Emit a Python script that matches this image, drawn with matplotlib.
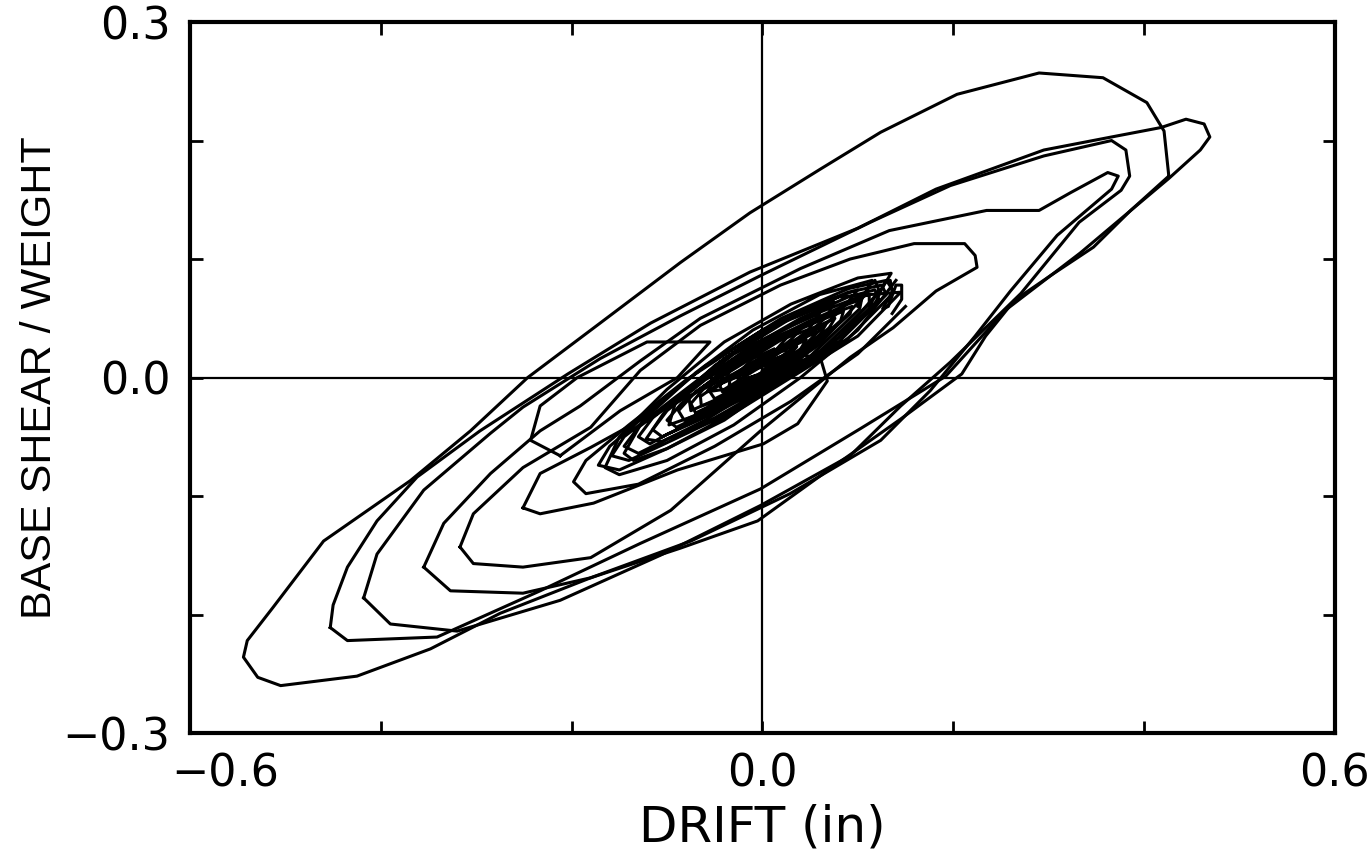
import matplotlib
matplotlib.use("Agg")
import matplotlib.pyplot as plt
import matplotlib.transforms as mtransforms
import numpy as np

# hysteresis loops: drift (in) vs base shear / weight
loop1_x = [0.426, 0.386, 0.347, 0.302, 0.264, 0.234, 0.209, 0.145, 0.071, -0.005, -0.086, -0.180,
           -0.275, -0.348, -0.425, -0.505, -0.529, -0.544, -0.540, -0.513, -0.460, -0.369, -0.306,
           -0.246, -0.170, -0.086, -0.013, 0.061, 0.124, 0.204, 0.290, 0.357, 0.403, 0.421, 0.426]
loop1_y = [0.170, 0.141, 0.110, 0.086, 0.065, 0.035, 0.003, -0.035, -0.077, -0.121, -0.144, -0.169,
           -0.199, -0.229, -0.252, -0.260, -0.253, -0.236, -0.222, -0.194, -0.138, -0.087, -0.045,
           0.000, 0.046, 0.097, 0.139, 0.176, 0.207, 0.239, 0.257, 0.253, 0.232, 0.208, 0.170]

loop2_x = [-0.453, -0.435, -0.341, -0.233, -0.128, -0.002, 0.103, 0.192, 0.255, 0.333, 0.426, 0.459,
           0.469, 0.463, 0.444, 0.418, 0.366, 0.295, 0.182, 0.100, -0.013, -0.117, -0.204, -0.296,
           -0.362, -0.404, -0.435, -0.450, -0.453]
loop2_y = [-0.211, -0.222, -0.219, -0.180, -0.140, -0.094, -0.043, 0.001, 0.057, 0.105, 0.168, 0.192,
           0.203, 0.214, 0.218, 0.211, 0.203, 0.192, 0.159, 0.126, 0.089, 0.046, 0.003, -0.045,
           -0.084, -0.121, -0.160, -0.192, -0.211]

loop3_x = [-0.418, -0.390, -0.320, -0.212, -0.107, -0.002, 0.092, 0.145, 0.197, 0.271, 0.332, 0.376,
           0.385, 0.381, 0.366, 0.295, 0.197, 0.113, -0.002, -0.086, -0.170, -0.251, -0.285, -0.355,
           -0.404, -0.418]
loop3_y = [-0.186, -0.208, -0.214, -0.188, -0.150, -0.108, -0.066, -0.024, 0.013, 0.071, 0.131, 0.158,
           0.170, 0.192, 0.200, 0.187, 0.162, 0.131, 0.086, 0.052, 0.016, -0.025, -0.047, -0.095,
           -0.149, -0.186]

loop4_x = [-0.355, -0.327, -0.251, -0.180, -0.075, 0.029, 0.124, 0.176, 0.223, 0.260, 0.309, 0.366,
           0.373, 0.362, 0.323, 0.290, 0.235, 0.133, 0.040, -0.065, -0.128, -0.191, -0.233, -0.285,
           -0.334, -0.355]
loop4_y = [-0.160, -0.180, -0.182, -0.169, -0.138, -0.098, -0.053, -0.011, 0.035, 0.073, 0.120, 0.159,
           0.170, 0.173, 0.156, 0.141, 0.141, 0.124, 0.092, 0.050, 0.014, -0.024, -0.045, -0.081,
           -0.123, -0.160]

loop5_x = [-0.317, -0.303, -0.251, -0.180, -0.096, -0.002, 0.092, 0.137, 0.182, 0.225, 0.223, 0.212,
           0.159, 0.092, 0.019, -0.065, -0.128, -0.180, -0.251, -0.303, -0.317]
loop5_y = [-0.143, -0.157, -0.160, -0.152, -0.112, -0.045, 0.017, 0.042, 0.073, 0.093, 0.103, 0.113,
           0.113, 0.100, 0.078, 0.044, 0.006, -0.042, -0.076, -0.115, -0.143]

loop6_x = [-0.251, -0.233, -0.177, -0.089, 0.001, 0.037, 0.068, 0.061, 0.019, -0.065, -0.128, -0.180,
           -0.233, -0.251]
loop6_y = [-0.110, -0.115, -0.106, -0.078, -0.056, -0.039, -0.003, 0.016, 0.023, -0.011, -0.036, -0.059,
           -0.081, -0.110]

loop7_x = [-0.212, -0.149, -0.089, -0.055, -0.121, -0.194, -0.233, -0.243, -0.212]
loop7_y = [-0.066, -0.028, 0.000, 0.030, 0.030, 0.000, -0.024, -0.053, -0.066]

# dense small cycles near the origin, traced as paths
core_x = [0.150, 0.100, 0.030, -0.050, -0.130, -0.185, -0.198, -0.185, -0.140, -0.080, 0.000, 0.080,
          0.145, 0.100, 0.040, -0.030, -0.100, -0.150, -0.172, -0.160, -0.120, -0.060, 0.020, 0.090, 0.130,
          0.138, 0.090, 0.030, -0.040, -0.100, -0.140, -0.158, -0.145, -0.100, -0.040, 0.030, 0.090, 0.125,
          0.130, 0.080, 0.020, -0.050, -0.100, -0.130, -0.145, -0.130, -0.080, -0.020, 0.040, 0.090, 0.118,
          0.122, 0.070, 0.010, -0.050, -0.100, -0.118, -0.130, -0.115, -0.070, -0.010, 0.050, 0.095, 0.112,
          0.112, 0.060, 0.000, -0.050, -0.090, -0.105, -0.115, -0.100, -0.060, 0.000, 0.050, 0.090, 0.104,
          0.102, 0.050, 0.000, -0.050, -0.090, -0.100, -0.085, -0.040, 0.010, 0.060, 0.094,
          0.092, 0.040, -0.010, -0.060, -0.082, -0.088, -0.070, -0.030, 0.020, 0.060, 0.085,
          0.082, 0.040, -0.010, -0.050, -0.070, -0.075, -0.060, -0.020, 0.020, 0.060, 0.076,
          0.070, 0.030, -0.010, -0.050, -0.064, -0.065, -0.040, 0.000, 0.040, 0.066,
          0.060, 0.020, -0.020, -0.050, -0.055, -0.030, 0.010, 0.040, 0.056,
          0.050, 0.020, -0.020, -0.042, -0.045, -0.020, 0.010, 0.046,
          0.040, 0.010, -0.020, -0.035, -0.034, -0.010, 0.020, 0.036,
          0.030, 0.000, -0.025, -0.026, 0.000, 0.026,
          0.020, -0.005, -0.018, -0.016, 0.005, 0.016, 0.000]
core_y = [0.060, 0.020, -0.020, -0.058, -0.090, -0.098, -0.088, -0.070, -0.040, -0.002, 0.040, 0.068,
          0.072, 0.035, 0.005, -0.030, -0.060, -0.078, -0.074, -0.058, -0.030, 0.010, 0.050, 0.075, 0.082,
          0.072, 0.033, 0.002, -0.032, -0.055, -0.070, -0.066, -0.050, -0.022, 0.015, 0.050, 0.072, 0.078,
          0.070, 0.030, -0.002, -0.034, -0.052, -0.064, -0.058, -0.042, -0.012, 0.022, 0.050, 0.068, 0.074,
          0.066, 0.026, -0.005, -0.030, -0.048, -0.056, -0.050, -0.034, -0.006, 0.026, 0.052, 0.066, 0.070,
          0.062, 0.022, -0.008, -0.028, -0.044, -0.050, -0.044, -0.028, -0.002, 0.028, 0.048, 0.062, 0.066,
          0.058, 0.018, -0.006, -0.026, -0.042, -0.036, -0.022, 0.006, 0.030, 0.050, 0.060,
          0.054, 0.016, -0.008, -0.028, -0.036, -0.028, -0.012, 0.010, 0.034, 0.048, 0.056,
          0.048, 0.018, -0.006, -0.022, -0.030, -0.022, -0.008, 0.012, 0.032, 0.044, 0.050,
          0.042, 0.014, -0.004, -0.020, -0.024, -0.016, -0.002, 0.018, 0.034, 0.044,
          0.036, 0.010, -0.006, -0.018, -0.012, 0.002, 0.020, 0.032, 0.038,
          0.030, 0.010, -0.004, -0.012, -0.006, 0.006, 0.018, 0.032,
          0.024, 0.006, -0.004, -0.008, -0.002, 0.008, 0.018, 0.026,
          0.020, 0.004, -0.004, 0.002, 0.010, 0.020,
          0.014, 0.002, -0.001, 0.004, 0.011, 0.014, 0.006]

core2_x = [0.140, 0.100, 0.040, -0.030, -0.100, -0.150, -0.165, -0.150, -0.100, -0.040, 0.030, 0.100, 0.135,
           0.126, 0.080, 0.020, -0.040, -0.100, -0.135, -0.145, -0.125, -0.070, -0.010, 0.060, 0.115,
           0.108, 0.060, 0.000, -0.060, -0.105, -0.122, -0.100, -0.050, 0.010, 0.070, 0.100,
           0.088, 0.040, -0.020, -0.070, -0.098, -0.090, -0.040, 0.020, 0.075,
           0.068, 0.020, -0.030, -0.075, -0.078, -0.030, 0.020, 0.060,
           0.048, 0.000, -0.040, -0.058, -0.040, 0.000, 0.044,
           0.030, -0.010, -0.040, -0.030, 0.000, 0.026,
           0.015, -0.015, -0.025, -0.010, 0.012]
core2_y = [0.082, 0.040, 0.000, -0.040, -0.070, -0.082, -0.076, -0.050, -0.010, 0.030, 0.062, 0.084, 0.088,
           0.076, 0.034, -0.002, -0.036, -0.060, -0.070, -0.064, -0.036, 0.004, 0.040, 0.070, 0.082,
           0.070, 0.028, -0.006, -0.036, -0.054, -0.052, -0.026, 0.010, 0.044, 0.066, 0.074,
           0.062, 0.024, -0.010, -0.032, -0.040, -0.018, 0.016, 0.046, 0.064,
           0.052, 0.016, -0.012, -0.028, -0.012, 0.020, 0.040, 0.054,
           0.040, 0.010, -0.010, -0.012, 0.010, 0.030, 0.044,
           0.032, 0.006, -0.004, 0.012, 0.026, 0.034,
           0.024, 0.006, 0.004, 0.016, 0.024]

# scalloped ends of the small cycles at the upper right of the cluster
teeth_x = [0.100, 0.112, 0.118, 0.122, 0.112, 0.118, 0.128, 0.134, 0.136, 0.126, 0.132, 0.140, 0.146,
           0.146, 0.136]
teeth_y = [0.060, 0.078, 0.082, 0.074, 0.060, 0.062, 0.080, 0.082, 0.072, 0.058, 0.060, 0.078, 0.078,
           0.066, 0.054]

loops = [(loop1_x, loop1_y), (loop2_x, loop2_y), (loop3_x, loop3_y), (loop4_x, loop4_y),
         (loop5_x, loop5_y), (loop6_x, loop6_y), (loop7_x, loop7_y), (core_x, core_y),
         (core2_x, core2_y), (teeth_x, teeth_y)]

xticks = [-0.6, -0.4, -0.2, 0.0, 0.2, 0.4, 0.6]
xticklabels = ['\u22120.6', '', '', '0.0', '', '', '0.6']
yticks = [-0.3, -0.2, -0.1, 0.0, 0.1, 0.2, 0.3]
yticklabels = ['\u22120.3', '', '', '0.0', '', '', '0.3']

fig = plt.figure(figsize=(13.71, 8.64), dpi=100)
ax = fig.add_axes([0.1386, 0.1516, 0.835, 0.8229])

for lx, ly in loops:
    ax.plot(lx, ly, color='black', lw=2.2, solid_joinstyle='round')

ax.axhline(0, color='black', lw=1.6)
ax.axvline(0, color='black', lw=1.6)

ax.set_xlim(-0.6, 0.6)
ax.set_ylim(-0.3, 0.3)
ax.set_xticks(xticks)
ax.set_xticklabels(xticklabels)
ax.set_yticks(yticks)
ax.set_yticklabels(yticklabels)
ax.tick_params(direction='in', length=9, width=2, top=True, right=True, labelsize=32, pad=14)
for s in ax.spines.values():
    s.set_linewidth(3)

# the -0.6 label sits a bit right of its tick in the original
offset = mtransforms.ScaledTranslation(0.35, 0, fig.dpi_scale_trans)
lab0 = ax.get_xticklabels()[0]
lab0.set_transform(lab0.get_transform() + offset)

ax.set_xlabel('DRIFT (in)', fontsize=36, labelpad=6)
ax.set_ylabel('BASE SHEAR / WEIGHT', fontsize=31, family='Liberation Sans', labelpad=2)

fig.savefig('out.png', dpi=100)
